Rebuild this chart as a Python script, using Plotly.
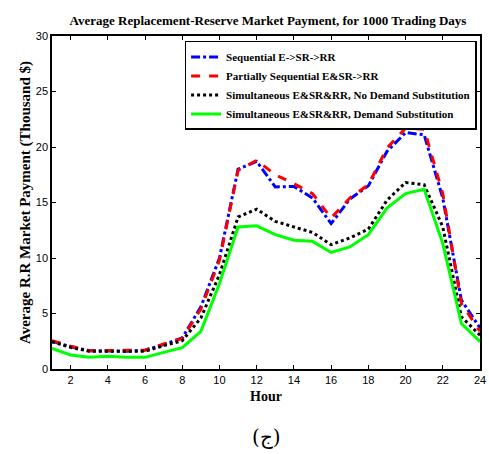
import plotly.graph_objects as go

hours = list(range(1, 25))

sequential = [2.5, 2.0, 1.65, 1.65, 1.6, 1.7, 2.2, 2.8, 5.6, 10.0, 18.0, 18.7,
              16.4, 16.45, 15.4, 13.1, 15.3, 16.5, 19.6, 21.3, 21.1, 15.4, 6.2, 3.7]
partially = [2.55, 2.05, 1.65, 1.65, 1.65, 1.7, 2.25, 2.75, 5.4, 9.8, 17.9, 18.8,
             17.5, 16.7, 15.8, 13.6, 15.4, 16.6, 19.9, 21.7, 21.6, 15.8, 5.9, 3.4]
simul_no_ds = [2.45, 1.95, 1.6, 1.6, 1.55, 1.6, 2.1, 2.55, 4.6, 8.5, 13.7, 14.4,
               13.3, 12.8, 12.3, 11.2, 11.8, 12.6, 15.2, 16.8, 16.6, 12.8, 4.7, 3.05]
simul_ds = [1.85, 1.26, 1.05, 1.15, 1.05, 1.05, 1.5, 1.92, 3.4, 7.7, 12.8, 12.9,
            12.1, 11.6, 11.5, 10.5, 11.0, 12.1, 14.5, 15.8, 16.2, 11.3, 4.1, 2.46]

names = ["Sequential E->SR->RR",
         "Partially Sequential E&SR->RR",
         "Simultaneous E&SR&RR, No Demand Substitution",
         "Simultaneous E&SR&RR, Demand Substitution"]

x_ticks = list(range(2, 25, 2))
y_ticks = list(range(0, 31, 5))

serif = "Liberation Serif"
sans = "Liberation Sans"

fig = go.Figure()
fig.add_trace(go.Scatter(x=hours, y=sequential, mode="lines", name=names[0],
                         line=dict(color="#0000FF", width=3, dash="dashdot")))
fig.add_trace(go.Scatter(x=hours, y=partially, mode="lines", name=names[1],
                         line=dict(color="#FF0000", width=3, dash="dash")))
fig.add_trace(go.Scatter(x=hours, y=simul_no_ds, mode="lines", name=names[2],
                         line=dict(color="#000000", width=3, dash="dot")))
fig.add_trace(go.Scatter(x=hours, y=simul_ds, mode="lines", name=names[3],
                         line=dict(color="#00FF00", width=3, dash="solid")))

axis_common = dict(showline=True, linecolor="black", linewidth=1.5, mirror="ticks",
                   ticks="inside", ticklen=4, tickcolor="black", showgrid=False,
                   zeroline=False, ticklabeloverflow="allow",
                   tickfont=dict(family=sans, size=11, color="black"))

fig.update_layout(
    width=489, height=454,
    margin=dict(l=52, r=3, t=36, b=85),
    paper_bgcolor="white", plot_bgcolor="white",
    title=dict(text="<b>Average Replacement-Reserve Market Payment, for 1000 Trading Days</b>",
               font=dict(family=serif, size=13, color="black"),
               x=0.548, xanchor="center", y=0.955, yanchor="middle"),
    xaxis=dict(range=[1, 24], tickvals=x_ticks,
               title=dict(text="<b>Hour</b>", font=dict(family=serif, size=14, color="black"),
                          standoff=6),
               **axis_common),
    yaxis=dict(range=[0, 30], tickvals=y_ticks,
               title=dict(text="<b>Average R.R Market Payment (Thousand $)</b>",
                          font=dict(family=serif, size=15, color="black"), standoff=2),
               **axis_common),
    legend=dict(x=0.992, xanchor="right", y=0.985, yanchor="top",
                bgcolor="white", bordercolor="black", borderwidth=1.5,
                font=dict(family=serif, size=11, color="black", weight="bold"),
                itemwidth=30, tracegroupgap=0),
    showlegend=True,
    annotations=[dict(text="(ج)", xref="paper", yref="paper", x=0.5, y=-0.205,
                      xanchor="center", yanchor="middle", showarrow=False,
                      font=dict(family="DejaVu Serif", size=20, color="black"))],
)

fig.write_html("out.html")
